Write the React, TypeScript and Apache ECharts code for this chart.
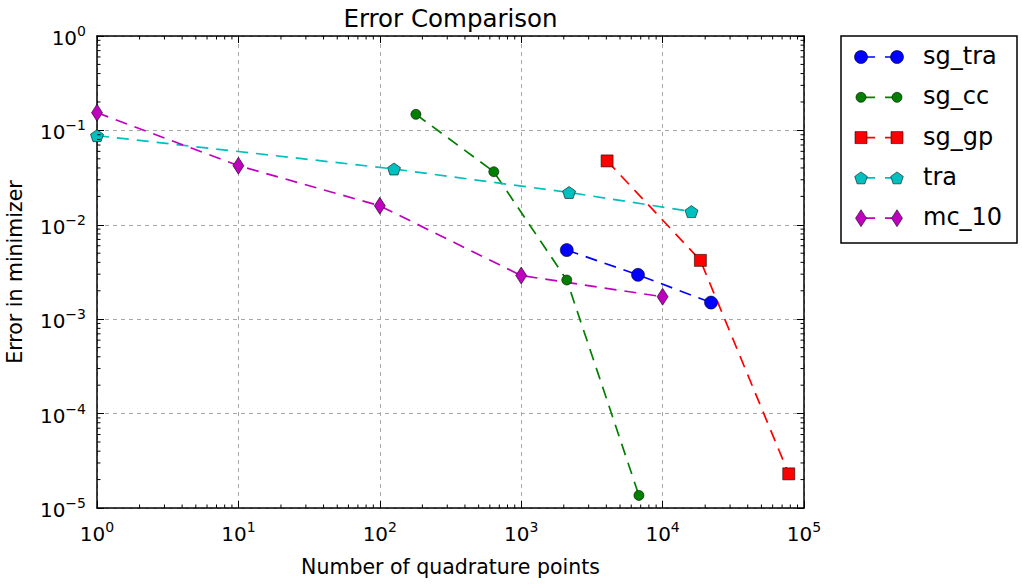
import React, { useEffect, useRef } from "react";
import * as echarts from "echarts";

const FONT = "DejaVu Sans";

const seriesNames = ["sg_tra", "sg_cc", "sg_gp", "tra", "mc_10"];
const seriesColors = ["#0000ff", "#007f00", "#ff0000", "#00bfbf", "#bf00bf"];

const sgTraX = [2100, 6700, 22000];
const sgTraY = [5.4e-3, 2.95e-3, 1.5e-3];
const sgCcX = [180, 640, 2100, 6800];
const sgCcY = [0.148, 0.0365, 2.6e-3, 1.36e-5];
const sgGpX = [4050, 18500, 78000];
const sgGpY = [0.0475, 4.2e-3, 2.3e-5];
const traX = [1, 126, 2180, 16000];
const traY = [0.088, 0.039, 0.022, 0.0138];
const mcX = [1, 10, 100, 1000, 10000];
const mcY = [0.154, 0.0423, 0.0159, 2.9e-3, 1.73e-3];

const xMin = 1;
const xMax = 100000;
const yMin = 1e-5;
const yMax = 1;

const xMinorTicks = [
  2, 3, 4, 5, 6, 7, 8, 9,
  20, 30, 40, 50, 60, 70, 80, 90,
  200, 300, 400, 500, 600, 700, 800, 900,
  2000, 3000, 4000, 5000, 6000, 7000, 8000, 9000,
  20000, 30000, 40000, 50000, 60000, 70000, 80000, 90000,
];
const yMinorTicks = [
  2e-5, 3e-5, 4e-5, 5e-5, 6e-5, 7e-5, 8e-5, 9e-5,
  2e-4, 3e-4, 4e-4, 5e-4, 6e-4, 7e-4, 8e-4, 9e-4,
  2e-3, 3e-3, 4e-3, 5e-3, 6e-3, 7e-3, 8e-3, 9e-3,
  2e-2, 3e-2, 4e-2, 5e-2, 6e-2, 7e-2, 8e-2, 9e-2,
  0.2, 0.3, 0.4, 0.5, 0.6, 0.7, 0.8, 0.9,
];

const PENTAGON =
  "path://M0,-1L0.951,-0.309L0.588,0.809L-0.588,0.809L-0.951,-0.309Z";

const symbols: any[] = ["circle", "circle", "rect", PENTAGON, "diamond"];
const symbolSizes: any[] = [13, 10, 12, [13, 12], [11, 17]];

const GRID = { left: 97, right: 218, top: 36, bottom: 76 };
const DASH = [12, 8];
const EDGE = "rgba(0,0,0,0.7)";

function pow10Label(v: number) {
  const e = Math.round(Math.log10(v));
  const s = e < 0 ? "\u2212" + String(-e) : String(e);
  return "{b|10}{s|" + s + "}";
}

const labelRich = {
  b: { fontSize: 20, fontFamily: FONT, color: "#000", lineHeight: 24, verticalAlign: "bottom" },
  s: { fontSize: 14, fontFamily: FONT, color: "#000", lineHeight: 14, verticalAlign: "top" },
};

function zip(xs: number[], ys: number[]) {
  return xs.map((x, i) => [x, ys[i]]);
}

function legendMarker(i: number, cx: number, cy: number) {
  const style = { fill: seriesColors[i], stroke: EDGE, lineWidth: 0.8 };
  if (i === 0) return { type: "circle", shape: { cx, cy, r: 6.5 }, style };
  if (i === 1) return { type: "circle", shape: { cx, cy, r: 5 }, style };
  if (i === 2) return { type: "rect", shape: { x: cx - 6, y: cy - 6, width: 12, height: 12 }, style };
  if (i === 3) {
    const pts: number[][] = [];
    for (let k = 0; k < 5; k++) {
      const a = -Math.PI / 2 + (k * 2 * Math.PI) / 5;
      pts.push([cx + 6.6 * Math.cos(a), cy + 0.6 + 6.6 * Math.sin(a)]);
    }
    return { type: "polygon", shape: { points: pts }, style };
  }
  return {
    type: "polygon",
    shape: { points: [[cx, cy - 8.5], [cx + 5.5, cy], [cx, cy + 8.5], [cx - 5.5, cy]] },
    style,
  };
}

export default function App() {
  const ref = useRef<HTMLDivElement>(null);

  useEffect(() => {
    if (!ref.current) return;
    const chart = echarts.init(ref.current, null, { renderer: "svg" });

    const dataSets = [
      zip(sgTraX, sgTraY),
      zip(sgCcX, sgCcY),
      zip(sgGpX, sgGpY),
      zip(traX, traY),
      zip(mcX, mcY),
    ];

    const lineSeries = dataSets.map((d, i) => ({
      name: seriesNames[i],
      type: "line",
      xAxisIndex: 0,
      yAxisIndex: 0,
      data: d,
      symbol: symbols[i],
      symbolSize: symbolSizes[i],
      showAllSymbol: true,
      clip: true,
      silent: true,
      z: 3,
      lineStyle: { color: seriesColors[i], width: 1.7, type: DASH },
      itemStyle: { color: seriesColors[i], borderColor: EDGE, borderWidth: 0.8 },
      emphasis: { disabled: true },
    }));

    const minorX = {
      type: "custom",
      xAxisIndex: 0,
      yAxisIndex: 0,
      silent: true,
      clip: false,
      z: 6,
      data: xMinorTicks.map((v) => [v, 1e-3]),
      renderItem: (params: any, api: any) => {
        const x = api.coord([api.value(0), 1e-3])[0];
        const cs = params.coordSys;
        const st = { stroke: "#000", lineWidth: 1 };
        return {
          type: "group",
          children: [
            { type: "line", shape: { x1: x, y1: cs.y + cs.height, x2: x, y2: cs.y + cs.height - 3.5 }, style: st },
            { type: "line", shape: { x1: x, y1: cs.y, x2: x, y2: cs.y + 3.5 }, style: st },
          ],
        };
      },
    };

    const minorY = {
      type: "custom",
      xAxisIndex: 0,
      yAxisIndex: 0,
      silent: true,
      clip: false,
      z: 6,
      data: yMinorTicks.map((v) => [10, v]),
      renderItem: (params: any, api: any) => {
        const y = api.coord([10, api.value(1)])[1];
        const cs = params.coordSys;
        const st = { stroke: "#000", lineWidth: 1 };
        return {
          type: "group",
          children: [
            { type: "line", shape: { x1: cs.x, y1: y, x2: cs.x + 3.5, y2: y }, style: st },
            { type: "line", shape: { x1: cs.x + cs.width, y1: y, x2: cs.x + cs.width - 3.5, y2: y }, style: st },
          ],
        };
      },
    };

    const axisLine = { show: true, onZero: false, lineStyle: { color: "#000", width: 1.5 } };
    const axisTick = { show: true, inside: true, length: 7, lineStyle: { color: "#000", width: 1 } };
    const splitLine = { show: true, lineStyle: { color: "#a8a8a8", width: 1, type: [4, 4] } };

    const legendChildren: any[] = [
      {
        type: "rect",
        shape: { x: 841, y: 36, width: 176, height: 207 },
        style: { fill: "#fff", stroke: "#000", lineWidth: 1.5 },
      },
    ];
    seriesNames.forEach((name, i) => {
      const cy = 57 + 40.3 * i;
      legendChildren.push({
        type: "line",
        shape: { x1: 861, y1: cy, x2: 897, y2: cy },
        style: { stroke: seriesColors[i], lineWidth: 1.7, lineDash: [14, 10] },
      });
      legendChildren.push(legendMarker(i, 861, cy));
      legendChildren.push(legendMarker(i, 897, cy));
      legendChildren.push({
        type: "text",
        x: 923,
        y: cy - 1,
        style: {
          text: name,
          fontSize: 24,
          fontFamily: FONT,
          fill: "#000",
          textAlign: "left",
          textVerticalAlign: "middle",
        },
      });
    });

    const option: any = {
      animation: false,
      backgroundColor: "#ffffff",
      grid: { ...GRID, containLabel: false },
      xAxis: [
        {
          type: "log",
          logBase: 10,
          min: xMin,
          max: xMax,
          position: "bottom",
          axisLine,
          axisTick,
          splitLine,
          axisLabel: { margin: 12, formatter: pow10Label, rich: labelRich },
        },
        {
          type: "log",
          logBase: 10,
          min: xMin,
          max: xMax,
          position: "top",
          axisLine,
          axisTick,
          splitLine: { show: false },
          axisLabel: { show: false },
        },
      ],
      yAxis: [
        {
          type: "log",
          logBase: 10,
          min: yMin,
          max: yMax,
          position: "left",
          axisLine,
          axisTick,
          splitLine,
          axisLabel: { margin: 11, formatter: pow10Label, rich: labelRich },
        },
        {
          type: "log",
          logBase: 10,
          min: yMin,
          max: yMax,
          position: "right",
          axisLine,
          axisTick,
          splitLine: { show: false },
          axisLabel: { show: false },
        },
      ],
      series: [...lineSeries, minorX, minorY],
      graphic: [
        {
          type: "text",
          x: 450.5,
          y: 18,
          style: {
            text: "Error Comparison",
            fontSize: 24.5,
            fontFamily: FONT,
            fill: "#000",
            textAlign: "center",
            textVerticalAlign: "middle",
          },
        },
        {
          type: "text",
          x: 450.5,
          y: 567,
          style: {
            text: "Number of quadrature points",
            fontSize: 20.5,
            fontFamily: FONT,
            fill: "#000",
            textAlign: "center",
            textVerticalAlign: "middle",
          },
        },
        {
          type: "text",
          x: 15,
          y: 272,
          rotation: Math.PI / 2,
          style: {
            text: "Error in minimizer",
            fontSize: 20.5,
            fontFamily: FONT,
            fill: "#000",
            textAlign: "center",
            textVerticalAlign: "middle",
          },
        },
        { type: "group", children: legendChildren },
      ],
    };

    chart.setOption(option);
    return () => chart.dispose();
  }, []);

  return (
    <div
      ref={ref}
      style={{ position: "absolute", left: 0, top: 0, width: 1022, height: 584, background: "#fff" }}
    />
  );
}
